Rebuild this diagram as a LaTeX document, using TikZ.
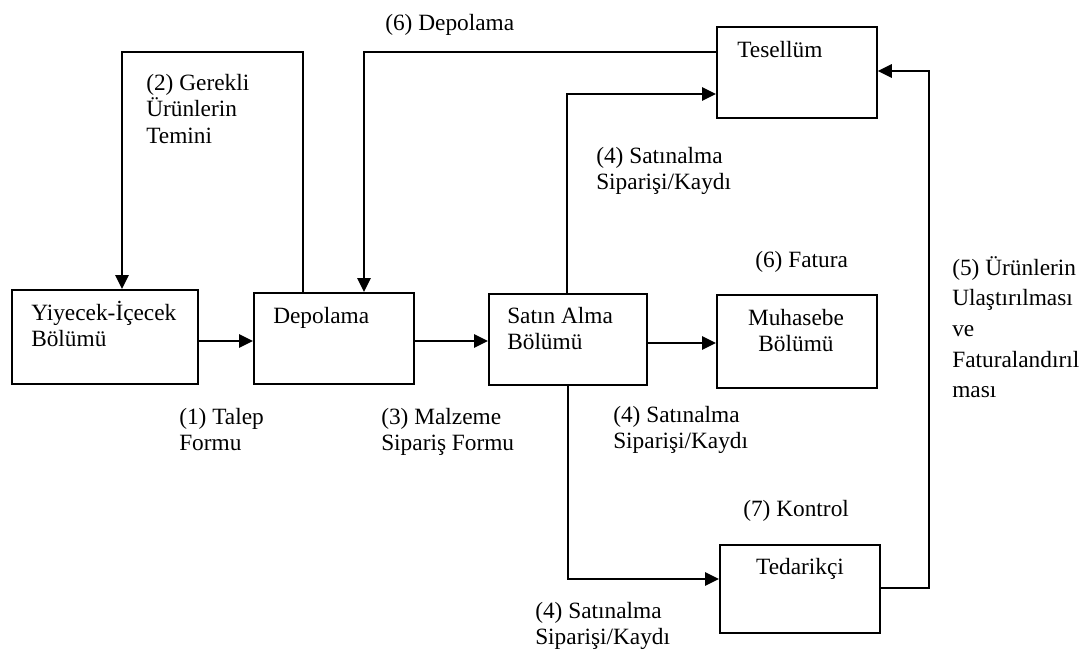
\documentclass[tikz,border=0pt]{standalone}
\usepackage{fontspec}
\setmainfont{Liberation Serif}
\usetikzlibrary{arrows.meta,calc}
\newcommand{\mlines}[1]{\begin{tabular}[t]{@{}l@{}}#1\end{tabular}}
\newcommand{\mlinesc}[1]{\begin{tabular}[t]{@{}c@{}}#1\end{tabular}}
\begin{document}
\begin{tikzpicture}[x=0.75pt,y=-0.75pt,
  box/.style={draw, line width=1.35pt, inner sep=0pt, anchor=north west},
  txt/.style={anchor=base west, inner sep=0pt, font=\fontsize{17.5}{20}\selectfont},
  ctxt/.style={anchor=base, inner sep=0pt, font=\fontsize{17.5}{20}\selectfont},
  arr/.style={line width=1.35pt, -{Triangle[length=10.5pt,width=10pt]}},
  ln/.style={line width=1.35pt}]
\useasboundingbox (0,0) rectangle (1089,650);
% boxes
\node[box, minimum width=139.5pt, minimum height=70.5pt] (yiy) at (11,289) {};
\node[box, minimum width=120pt, minimum height=68.25pt] (dep) at (253,292) {};
\node[box, minimum width=118.5pt, minimum height=68.25pt] (sat) at (488,293) {};
\node[box, minimum width=120pt, minimum height=69.75pt] (muh) at (716,294) {};
\node[box, minimum width=120pt, minimum height=68.25pt] (tes) at (716,26) {};
\node[box, minimum width=120pt, minimum height=66pt] (ted) at (719,544) {};
% box texts
\node[txt] (yiyT) at (31,320) {\mlines{Yiyecek-İçecek\\Bölümü}};
\node[txt] (depT) at (273,323) {Depolama};
\node[txt] (satT) at (507,323) {\mlines{Satın Alma\\Bölümü}};
\node[ctxt] (muhT) at (796,325) {\mlinesc{Muhasebe\\Bölümü}};
\node[txt] (tesT) at (737,57) {Tesellüm};
\node[ctxt] (tedT) at (800,574) {Tedarikçi};
% labels
\node[txt] (l1) at (179,424) {\mlines{(1) Talep\\Formu}};
\node[txt] (l2) at (146,90) {\mlines{(2) Gerekli\\Ürünlerin\\Temini}};
\node[txt] (l3) at (381,424) {\mlines{(3) Malzeme\\Sipariş Formu}};
\node[txt] (l4a) at (596,163) {\mlines{(4) Satınalma\\Siparişi/Kaydı}};
\node[txt] (l4b) at (613,422) {\mlines{(4) Satınalma\\Siparişi/Kaydı}};
\node[txt] (l4c) at (535,618) {\mlines{(4) Satınalma\\Siparişi/Kaydı}};
\node[txt, font=\fontsize{17.5}{23}\selectfont] (l5) at (952,275) {\mlines{(5) Ürünlerin\\Ulaştırılması\\ve\\Faturalandırıl\\ması}};
\node[txt] (l6a) at (385,30) {(6) Depolama};
\node[txt] (l6b) at (755,267) {(6) Fatura};
\node[txt] (l7) at (743,516) {(7) Kontrol};
% bend points
\coordinate (c2a) at (303,52);
\coordinate (c2b) at (122,52);
\coordinate (c6) at (364,52);
\coordinate (c5) at (929,71);
% connectors
\draw[arr] (yiy.east |- 0,341) -- (dep.west |- 0,341);
\draw[arr] (dep.east |- 0,341) -- (sat.west |- 0,341);
\draw[arr] (sat.east |- 0,343) -- (muh.west |- 0,343);
\draw[arr] (dep.north -| c2a) -- (c2a) -- (c2b) -- (yiy.north -| c2b);
\draw[arr] (tes.west |- c6) -- (c6) -- (dep.north -| c6);
\draw[arr] (sat.north -| 567,0) |- (tes.west |- 0,94);
\draw[arr] (sat.south -| 568,0) |- (ted.west |- 0,579);
\draw[arr] (ted.east |- 0,588) -| (c5) -- (tes.east |- c5);
\end{tikzpicture}
\end{document}
